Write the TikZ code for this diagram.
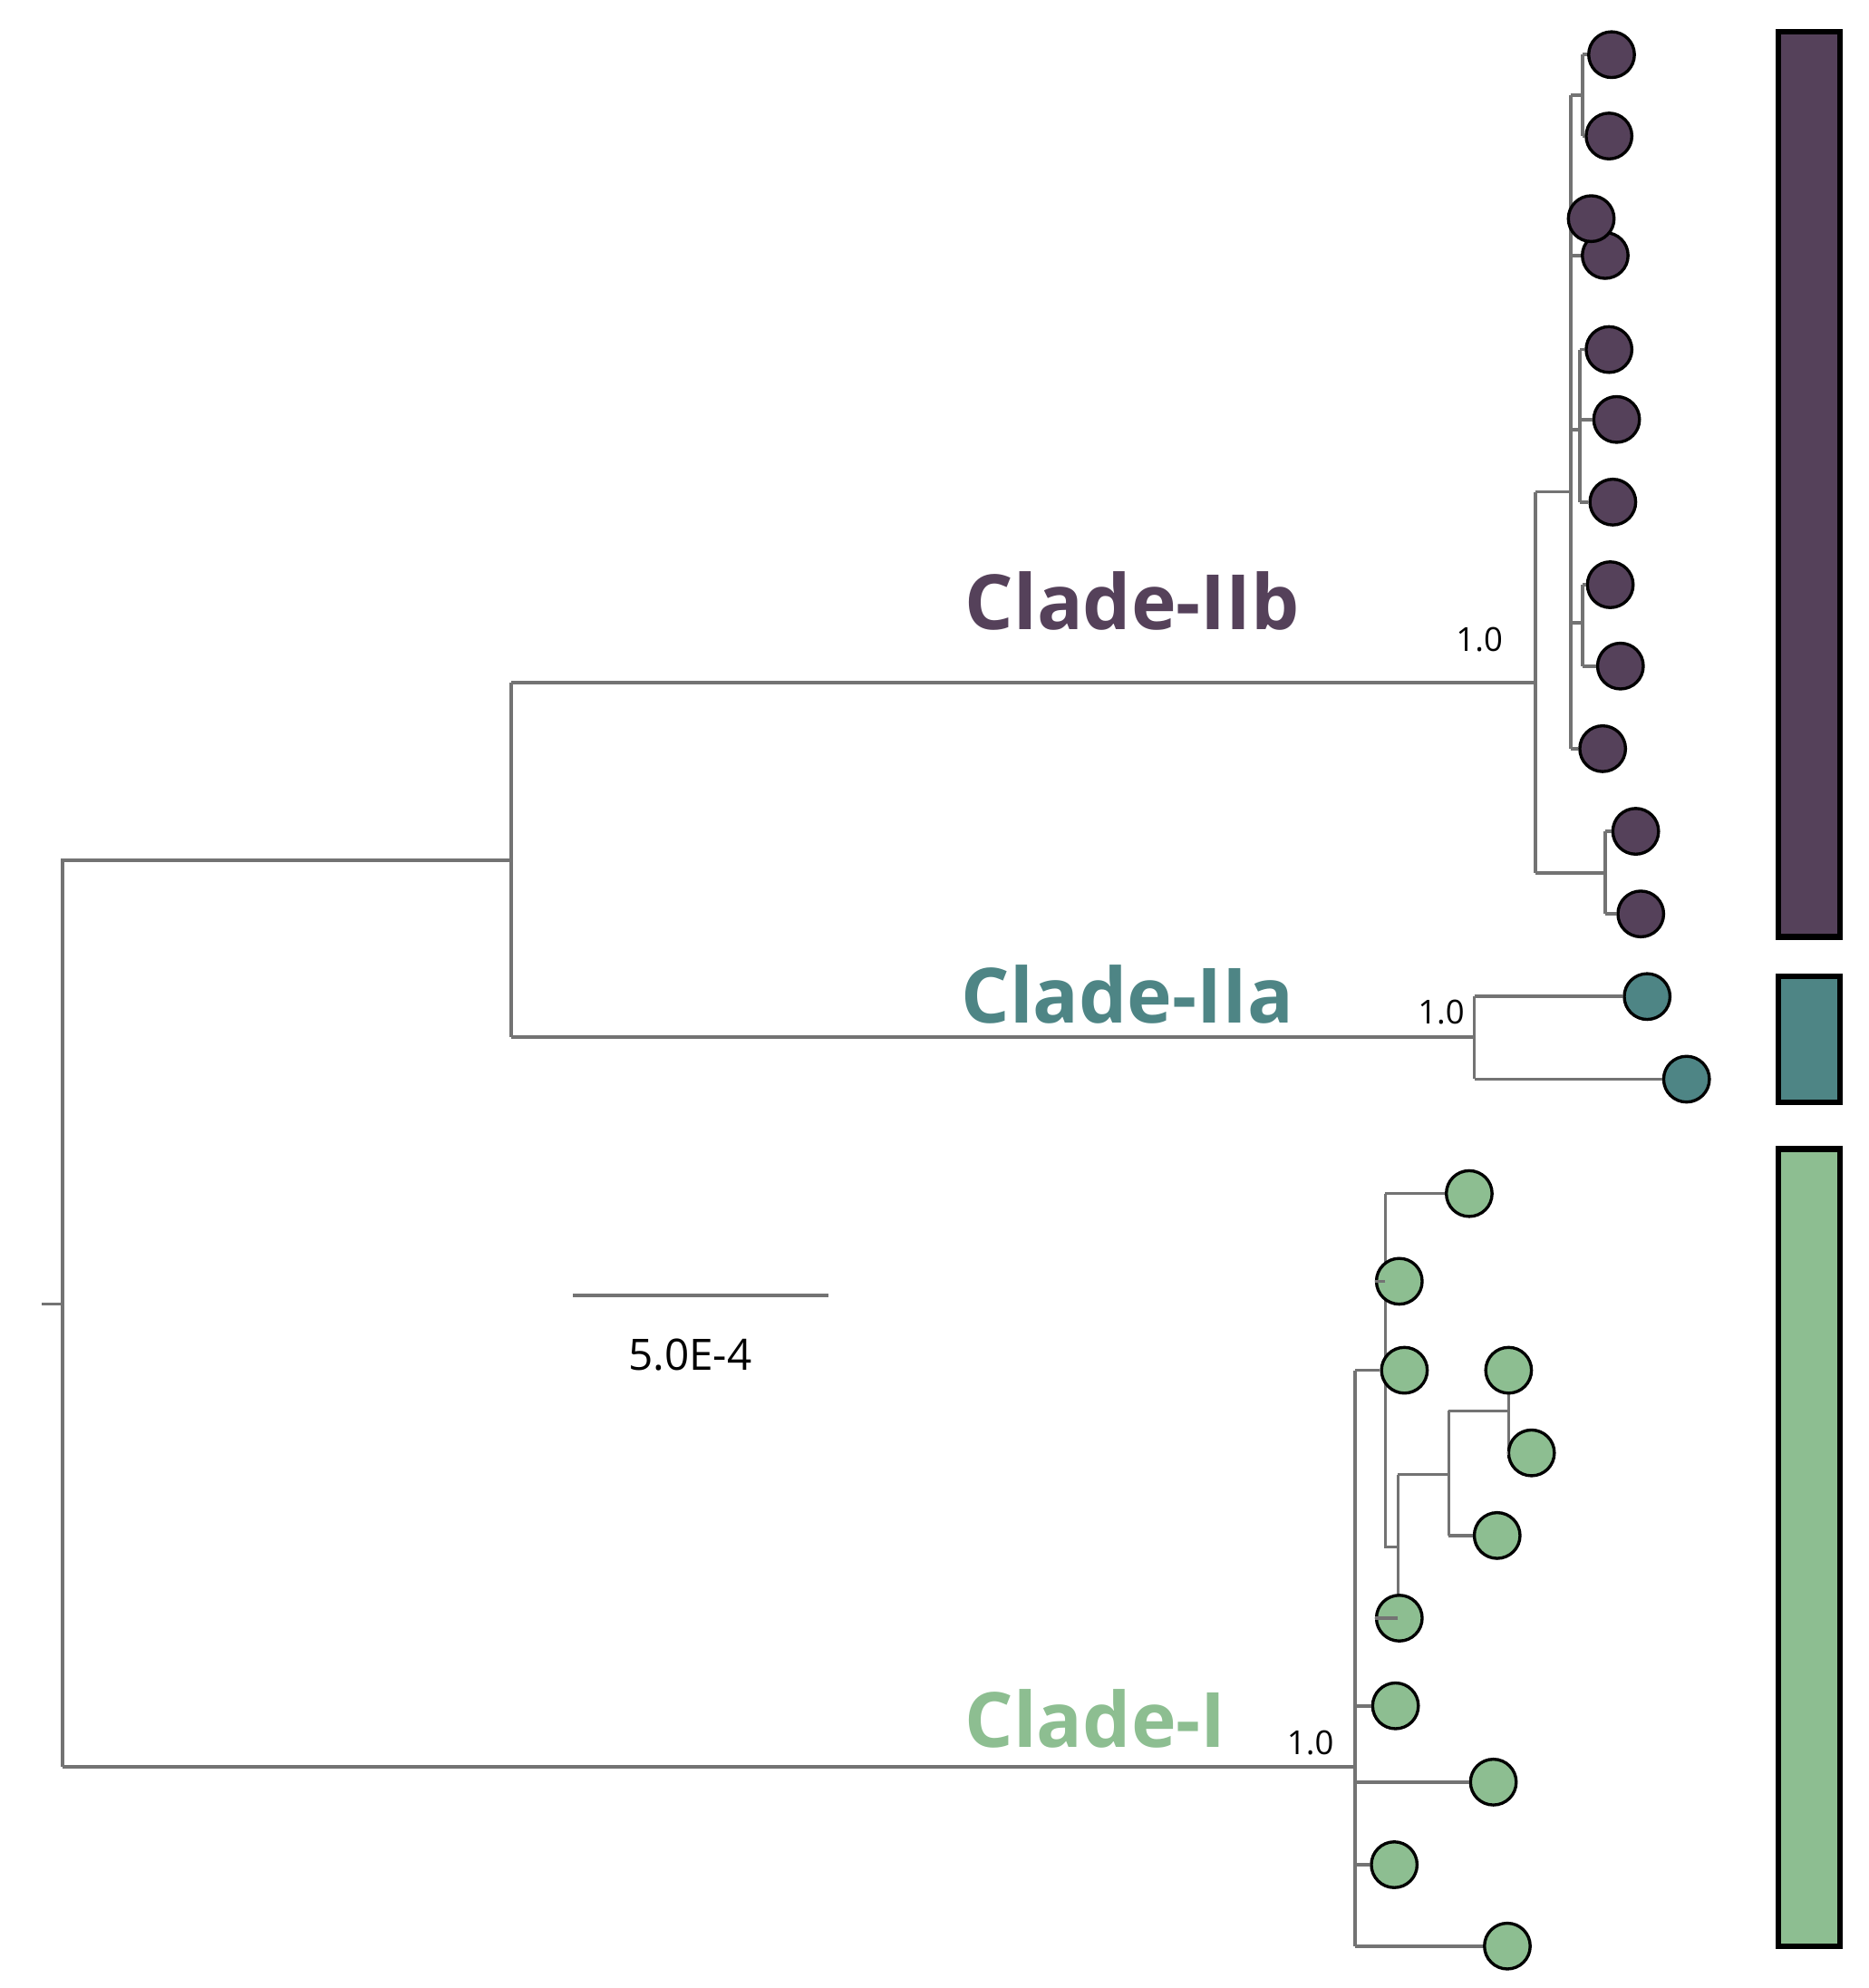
\documentclass[tikz,border=0pt]{standalone}
\usepackage{fontspec}
\setmainfont{Open Sans}
\definecolor{cB}{HTML}{55415A}
\definecolor{cA}{HTML}{4E8585}
\definecolor{cI}{HTML}{8DBE91}
\begin{document}
\begin{tikzpicture}[x=0.5pt,y=-0.5pt,
 br/.style={draw=gray!90!black,line width=1.3pt},
 lf/.style={circle,draw=black,line width=1.2pt,minimum size=18pt,inner sep=0pt},
 bar/.style={draw=black,line width=2.2pt},
 cl/.style={font=\fontsize{30}{30}\selectfont\bfseries},
 bs/.style={font=\fontsize{13}{13}\selectfont}]
\useasboundingbox (0,0) rectangle (1470,1564);
% backbone
\draw[br] (33,1026) -- (49,1026);
\draw[br] (402,537) -- (402,816);
\draw[br] (49,1390) -- (49,677) -- (402,677);
% IIb
\draw[br] (402,537) -- (1208,537);
\draw[br] (1208,387) -- (1208,687);
\draw[br] (1208,387) -- (1236,387);
\draw[br] (1236,75) -- (1236,589);
\draw[br] (1236,75) -- (1245,75) (1245,43) -- (1245,107);
\draw[br] (1236,338) -- (1243,338) (1243,275) -- (1243,395);
\draw[br] (1236,490) -- (1245,490) (1245,460) -- (1245,524);
\draw[br] (1208,687) -- (1263,687) (1263,654) -- (1263,719);
\foreach \n/\x/\y/\a in {b1/1268/43/1245, b2/1266/107/1245, b4/1263/201/1236, b5/1266/275/1243, b6/1272/330/1243, b7/1269/395/1243, b8/1267/460/1245, b9/1275/524/1245, b10/1261/589/1236, b11/1287/654/1263, b12/1291/719/1263}{
  \node[lf,fill=cB] (\n) at (\x,\y) {};
  \draw[br] (\a,\y) -- (\n);
}
\node[lf,fill=cB] (b3) at (1252,172) {};
% IIa
\draw[br] (402,816) -- (1160,816) (1160,784) -- (1160,849);
\node[lf,fill=cA] (a1) at (1296,784) {};
\node[lf,fill=cA] (a2) at (1327,849) {};
\draw[br] (1160,784) -- (a1) (1160,849) -- (a2);
% I
\draw[br] (49,1390) -- (1066,1390) (1066,1078) -- (1066,1531);
\draw[br] (1090,939) -- (1090,1217) -- (1100,1217);
\draw[br] (1100,1160) -- (1100,1273);
\draw[br] (1100,1160) -- (1140,1160) (1140,1110) -- (1140,1208);
\draw[br] (1140,1110) -- (1187,1110) (1187,1078) -- (1187,1143);
\foreach \n/\x/\y/\a in {i1/1156/939/1090, i2/1101/1008/1090, i3/1105/1078/1066, i4/1187/1078/1187, i5/1205/1143/1187, i6/1178/1208/1140, i7/1101/1273/1100, i8/1098/1342/1066, i9/1175/1402/1066, i10/1097/1467/1066, i11/1186/1531/1066}{
  \node[lf,fill=cI] (\n) at (\x,\y) {};
  \draw[br] (\a,\y) -- (\n);
}
% bars
\draw[bar,fill=cB] (1399,25) rectangle (1448,737);
\draw[bar,fill=cA] (1399,768) rectangle (1448,867);
\draw[bar,fill=cI] (1399,904) rectangle (1448,1531);
% labels
\node[cl,text=cB] (lb) at (891,473) {Clade-IIb};
\node[cl,text=cA] (la) at (887,782) {Clade-IIa};
\node[cl,text=cI] (li) at (862,1352) {Clade-I};
\node[bs] (s1) at (1164,503) {1.0};
\node[bs] (s2) at (1134,796) {1.0};
\node[bs] (s3) at (1031,1371) {1.0};
\coordinate (sc1) at (451,1019); \coordinate (sc2) at (652,1019);
\draw[br] (sc1) -- (sc2);
\node[font=\fontsize{17}{17}\selectfont] (sl) at (543,1066) {5.0E-4};
\end{tikzpicture}
\end{document}
